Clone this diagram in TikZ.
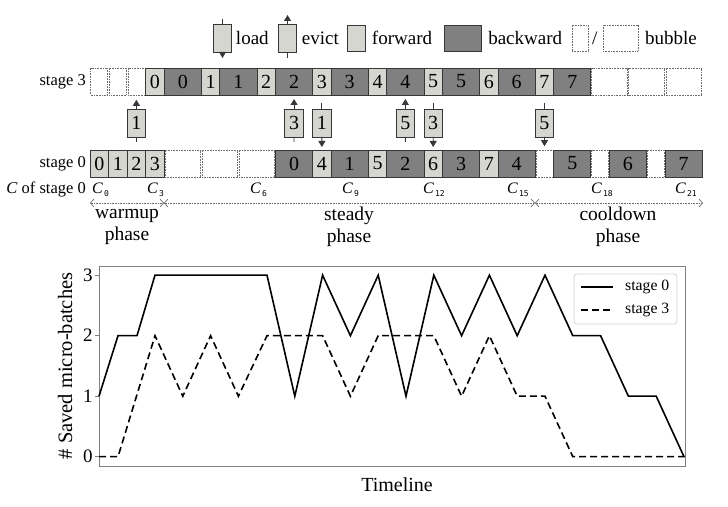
\documentclass[tikz,border=0pt]{standalone}
\usepackage{fontspec}
\setmainfont{Liberation Serif}
\newfontfamily\subfont{DejaVu Sans Mono}
\usetikzlibrary{positioning,arrows.meta}

\definecolor{fwdgray}{RGB}{213,214,208}
\definecolor{bwdgray}{RGB}{128,128,128}
\definecolor{blkline}{RGB}{55,55,55}
\definecolor{bubline}{RGB}{110,110,110}

\newcommand{\clk}[1]{\textit{C}\kern1pt\raisebox{-3.5pt}{\subfont\fontsize{8}{8}\selectfont #1}}

\tikzset{
  blk/.style={draw=blkline, line width=0.8pt, inner sep=0pt, outer sep=0pt, minimum height=27pt, font=\fontsize{20}{20}\selectfont},
  fwd/.style={blk, fill=fwdgray, minimum width=18.55pt},
  bwd/.style={blk, fill=bwdgray, minimum width=37.1pt},
  bub/.style={draw=bubline, dash pattern=on 0.8pt off 0.8pt, line width=0.7pt, fill=white, inner sep=0pt, outer sep=0.8pt, minimum height=27pt, minimum width=16.95pt},
  bubw/.style={bub, minimum width=35.5pt},
  xfer/.style={fwd, minimum height=28pt},
  tip/.style={-{Triangle[length=6pt,width=7pt]}, line width=0.8pt, draw=blkline},
  stub/.style={line width=0.8pt, draw=blkline},
  lbl/.style={inner sep=0pt, font=\fontsize{19}{19}\selectfont},
  rowlbl/.style={inner sep=0pt, font=\fontsize{16.5}{16.5}\selectfont},
  clab/.style={anchor=base west, inner sep=0pt, font=\fontsize{16}{16}\selectfont},
  phase/.style={draw=bubline, dash pattern=on 0.8pt off 0.8pt, line width=0.7pt, {Straight Barb[length=3.5pt,width=8pt]}-{Straight Barb[length=3.5pt,width=8pt]}},
  phlab/.style={align=center, inner sep=0pt, font=\fontsize{19.5}{22}\selectfont},
  frame/.style={draw=gray, line width=1pt},
}

\begin{document}
\begin{tikzpicture}[x=1pt, y=1pt]
\useasboundingbox (0,0) rectangle (728,506);

% legend on top
\node[xfer] (lgld) at (222.5,468) {};
\coordinate[above=5pt of lgld] (lglda);
\coordinate[below=6pt of lgld] (lgldb);
\draw[stub] (lgld) -- (lglda);
\draw[tip] (lgld) -- (lgldb);
\node[lbl, right=4pt of lgld] (tld) {load};
\node[xfer] (lgev) at (287.5,468) {};
\coordinate[above=9pt of lgev] (lgeva);
\coordinate[below=6pt of lgev] (lgevb);
\draw[tip] (lgev) -- (lgeva);
\draw[stub] (lgev) -- (lgevb);
\node[lbl, right=5pt of lgev] (tev) {evict};
\node[fwd, minimum height=26pt] (lgfw) at (356.5,468) {};
\node[lbl, right=6pt of lgfw] (tfw) {forward};
\node[bwd, minimum height=26pt] (lgbw) at (462.5,468) {};
\node[lbl, right=7pt of lgbw] (tbw) {backward};
\node[bub, minimum width=16pt, minimum height=26pt] (lgb1) at (580,468) {};
\node[lbl, right=3pt of lgb1] (tsl) {/};
\node[bub, minimum width=35pt, minimum height=26pt] (lgb2) at (620.5,468) {};
\node[lbl, right=6pt of lgb2] (tbb) {bubble};

% stage 3
\node[bub] (s3x1) at (99.275,424.5) {};
\node[bub, right=0pt of s3x1] (s3x2) {};
\node[bub, right=0pt of s3x2] (s3x3) {};
\node[fwd, right=0pt of s3x3] (s3f0) {0};
\node[bwd, right=0pt of s3f0] (s3b0) {0};
\node[fwd, right=0pt of s3b0] (s3f1) {1};
\node[bwd, right=0pt of s3f1] (s3b1) {1};
\node[fwd, right=0pt of s3b1] (s3f2) {2};
\node[bwd, right=0pt of s3f2] (s3b2) {2};
\node[fwd, right=0pt of s3b2] (s3f3) {3};
\node[bwd, right=0pt of s3f3] (s3b3) {3};
\node[fwd, right=0pt of s3b3] (s3f4) {4};
\node[bwd, right=0pt of s3f4] (s3b4) {4};
\node[fwd, right=0pt of s3b4] (s3f5) {5};
\node[bwd, right=0pt of s3f5] (s3b5) {5};
\node[fwd, right=0pt of s3b5] (s3f6) {6};
\node[bwd, right=0pt of s3f6] (s3b6) {6};
\node[fwd, right=0pt of s3b6] (s3f7) {7};
\node[bwd, right=0pt of s3f7] (s3b7) {7};
\node[bubw, right=0pt of s3b7] (s3y1) {};
\node[bubw, right=0pt of s3y1] (s3y2) {};
\node[bubw, right=0pt of s3y2] (s3y3) {};
\node[rowlbl, left=4pt of s3x1] (st3) {stage 3};

% stage 0
\node[fwd] (s0f0) at (99.275,342.5) {0};
\node[fwd, right=0pt of s0f0] (s0f1) {1};
\node[fwd, right=0pt of s0f1] (s0f2) {2};
\node[fwd, right=0pt of s0f2] (s0f3) {3};
\node[bubw, right=0pt of s0f3] (s0x1) {};
\node[bubw, right=0pt of s0x1] (s0x2) {};
\node[bubw, right=0pt of s0x2] (s0x3) {};
\node[bwd, right=0pt of s0x3] (s0b0) {0};
\node[fwd, right=0pt of s0b0] (s0f4) {4};
\node[bwd, right=0pt of s0f4] (s0b1) {1};
\node[fwd, right=0pt of s0b1] (s0f5) {5};
\node[bwd, right=0pt of s0f5] (s0b2) {2};
\node[fwd, right=0pt of s0b2] (s0f6) {6};
\node[bwd, right=0pt of s0f6] (s0b3) {3};
\node[fwd, right=0pt of s0b3] (s0f7) {7};
\node[bwd, right=0pt of s0f7] (s0b4) {4};
\node[bub, right=0pt of s0b4] (s0y1) {};
\node[bwd, right=0pt of s0y1] (s0b5) {5};
\node[bub, right=0pt of s0b5] (s0y2) {};
\node[bwd, right=0pt of s0y2] (s0b6) {6};
\node[bub, right=0pt of s0b6] (s0y3) {};
\node[bwd, right=0pt of s0y3] (s0b7) {7};
\node[rowlbl, left=4pt of s0f0] (st0) {stage 0};

% loads and evictions
\node[xfer] (ev1) at (s3x3 |- 0,383) {1};
\draw[tip, shorten >=4pt] (ev1) -- (s3x3);
\draw[stub, shorten >=8pt] (ev1) -- (s0f2);
\node[xfer] (ev3) at (s3b2 |- 0,383) {3};
\draw[tip, shorten >=4pt] (ev3) -- (s3b2);
\draw[stub, shorten >=8pt] (ev3) -- (s0b0);
\node[xfer] (ld1) at (s3f3 |- 0,383) {1};
\draw[stub, shorten >=8pt] (ld1) -- (s3f3);
\draw[tip, shorten >=3pt] (ld1) -- (s0f4);
\node[xfer] (ev5) at (s3b4 |- 0,383) {5};
\draw[tip, shorten >=4pt] (ev5) -- (s3b4);
\draw[stub, shorten >=8pt] (ev5) -- (s0b2);
\node[xfer] (ld3) at (s3f5 |- 0,383) {3};
\draw[stub, shorten >=8pt] (ld3) -- (s3f5);
\draw[tip, shorten >=3pt] (ld3) -- (s0f6);
\node[xfer] (ld5) at (s3f7 |- 0,383) {5};
\draw[stub, shorten >=8pt] (ld5) -- (s3f7);
\draw[tip, shorten >=3pt] (ld5) -- (s0y1);

% clock labels
\node[anchor=base east, inner sep=0pt, font=\fontsize{16.5}{16.5}\selectfont] (crow) at (86,312.5) {\textit{C} of stage 0};
\node[clab] (c0) at (92,312.5) {\clk{0}};
\node[clab] (c3) at (147,312.5) {\clk{3}};
\node[clab] (c6) at (250,312.5) {\clk{6}};
\node[clab] (c9) at (342,312.5) {\clk{9}};
\node[clab] (c12) at (423,312.5) {\clk{12}};
\node[clab] (c15) at (507,312.5) {\clk{15}};
\node[clab] (c18) at (591,312.5) {\clk{18}};
\node[clab] (c21) at (675,312.5) {\clk{21}};

% phases
\coordinate (ph0) at (90,303);
\coordinate (ph1) at (164,303);
\coordinate (ph2) at (535,303);
\coordinate (ph3) at (703,303);
\draw[phase] (ph0) -- (ph1);
\draw[phase] (ph1) -- (ph2);
\draw[phase] (ph2) -- (ph3);
\node[phlab] (pw) at (127,279) {warmup\\phase};
\node[phlab] (ps) at (349,279) {steady\\phase};
\node[phlab] (pc) at (618,279) {cooldown\\phase};

% memory plot
\begin{scope}[shift={(99,49.3)}, y=60.5pt]
  \draw[frame] (0,-0.154) rectangle (586,3.152);
  \foreach \v in {0,1,2,3}
    \draw[frame] (0,\v) -- (-4,\v) node[left, inner sep=2pt, font=\fontsize{19}{19}\selectfont] (tk\v) {\v};
  \node[rotate=90, font=\fontsize{20.5}{20.5}\selectfont] (ylab) at (-34,1.5) {\# Saved micro-batches};
  \node[font=\fontsize{20}{20}\selectfont] (xlab) at (298,-0.468) {Timeline};

  \draw[line width=1.6pt] plot coordinates {(0,1) (19,2) (38,2) (56,3) (168,3) (195.8,1) (223.6,3) (251.4,2) (279.2,3) (307,1) (334.8,3) (362.6,2) (390.4,3) (418.2,2) (446,3) (473.8,2) (501.6,2) (529.4,1) (557.2,1) (585,0)};
  \draw[line width=1.6pt, dash pattern=on 7pt off 4pt] plot coordinates {(0,0) (19,0) (56,2) (83.8,1) (111.6,2) (139.4,1) (168,2) (223.6,2) (251.4,1) (279.2,2) (334.8,2) (362.6,1) (390.4,2) (418.2,1) (446,1) (473.8,0) (586,0)};

  \draw[rounded corners=3pt, draw=gray!35, line width=0.8pt, fill=white] (475,2.193) rectangle (578,3.02);
  \node[anchor=west, inner sep=0pt, font=\fontsize{15.7}{15.7}\selectfont] (lg0) at (526,2.805) {stage 0};
  \node[anchor=west, inner sep=0pt, font=\fontsize{15.7}{15.7}\selectfont] (lg3) at (526,2.425) {stage 3};
  \draw[line width=1.6pt] ([xshift=-44pt]lg0.west) -- ([xshift=-12pt]lg0.west);
  \draw[line width=1.6pt, dash pattern=on 7pt off 4pt] ([xshift=-44pt]lg3.west) -- ([xshift=-12pt]lg3.west);
\end{scope}
\end{tikzpicture}
\end{document}
